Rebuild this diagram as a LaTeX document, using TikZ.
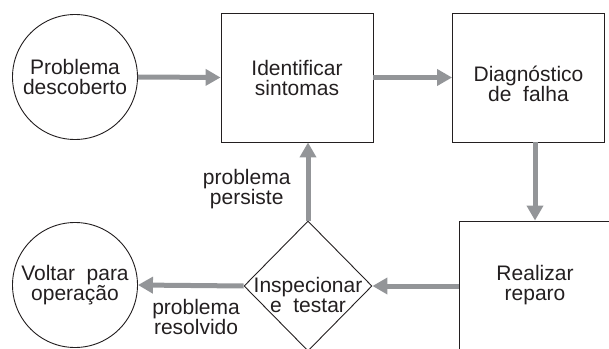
\documentclass[tikz,border=0pt]{standalone}
\usepackage{fontspec}
\setmainfont{Liberation Sans}
\usepackage{tikz}
\usetikzlibrary{arrows.meta,positioning,shapes.geometric}
\definecolor{FlowInk}{HTML}{231F20}
\definecolor{FlowGray}{HTML}{939598}

\tikzset{
  flowtext/.style={font=\fontsize{21}{20}\selectfont, text=FlowInk, align=center},
  endcirc/.style={flowtext, draw=FlowInk, line width=0.9pt, circle, inner sep=0pt, minimum size=125pt},
  stepbox/.style={flowtext, draw=FlowInk, line width=0.9pt, rectangle, inner sep=0pt, minimum width=152pt, minimum height=129pt},
  checkdiam/.style={flowtext, draw=FlowInk, line width=0.9pt, diamond, inner sep=0pt, minimum width=128pt, minimum height=130pt},
  flowarrow/.style={draw=FlowGray, line width=5pt, -{Triangle[length=15pt, width=16pt]}},
  lbl/.style={flowtext, inner sep=0pt}
}

\begin{document}
\begin{tikzpicture}[x=1pt, y=1pt]
\useasboundingbox (0,0) rectangle (609,348);
\clip (0,0) rectangle (609,348);

% Steps of the repair loop
\node[endcirc] (found) at (75,271) {Problema\\descoberto};
\node[stepbox] (ident) at (297,270.5) {Identificar\\sintomas};
\node[stepbox] (diag) at (528.5,270.5) {\rule{0pt}{28pt}Diagnóstico\\de~~falha}; % text sits a bit low
\node[stepbox] (repair) at (535,62.5) {Realizar\\reparo};
\node[checkdiam] (check) at (308,62) {\makebox[0pt]{\raisebox{-17pt}[0pt][0pt]{\begin{tabular}{@{}c@{}}Inspecionar\\e~~testar\end{tabular}}}};
\node[endcirc] (back) at (75,63) {Voltar~~para\\operação};

% Connectors
\draw[flowarrow] (found.east) -- (ident.west);
\draw[flowarrow] (ident.east) -- (diag.west);
\draw[flowarrow] (diag.south -| repair.north) -- (repair.north);
\draw[flowarrow] (check.east -| repair.west) -- (check.east);
\draw[flowarrow] (check.west) -- (back.east)
  node[lbl, pos=0.45, below=11pt] {problema\\resolvido};
\draw[flowarrow] (check.north) -- (check.north |- ident.south)
  node[lbl, pos=0.4, left=15pt] {problema\\persiste};
\end{tikzpicture}
\end{document}
